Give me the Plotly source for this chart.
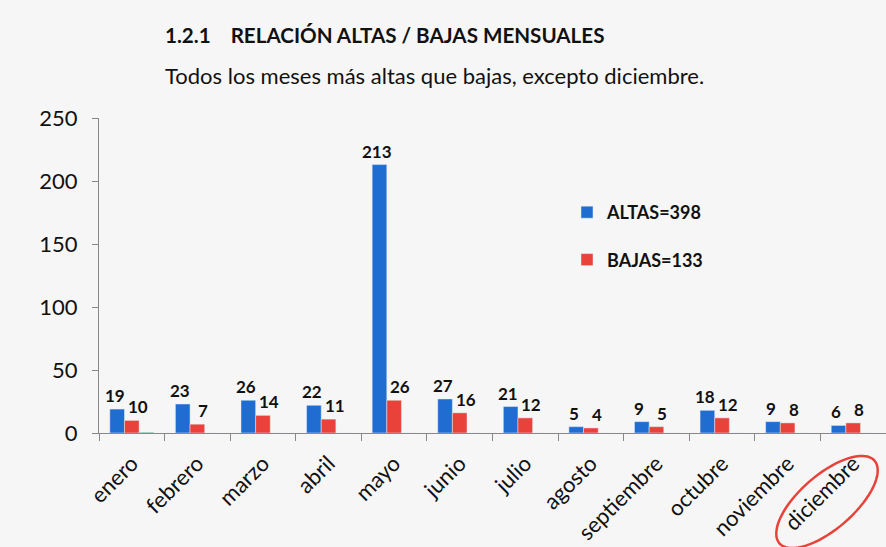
import numpy as np
import plotly.graph_objects as go

meses = ["enero", "febrero", "marzo", "abril", "mayo", "junio", "julio",
         "agosto", "septiembre", "octubre", "noviembre", "diciembre"]
altas = [19, 23, 26, 22, 213, 27, 21, 5, 9, 18, 9, 6]
bajas = [10, 7, 14, 11, 26, 16, 12, 4, 5, 12, 8, 8]
otros = [0.6, 0, 0, 0, 0, 0, 0, 0, 0, 0, 0, 0]
y_ticks = [0, 50, 100, 150, 200, 250]

FONT = "Lato, 'Open Sans', sans-serif"
BLUE = "#1f6dd1"
RED = "#e8423a"
GREEN = "#2ea56a"
BG = "#f6f6f6"

W, H = 886, 547
L, R, T, B = 99, 0, 118, 114
PW, PH = W - L - R, H - T - B


def px2paper(x, y):
    return (x - L) / PW, (H - B - y) / PH


# tilted ellipse around "diciembre" (decoration), built in pixel space
cx, cy, a, b, ang = 827, 502, 63, 27, np.deg2rad(41)
t = np.linspace(0, 2 * np.pi, 73)
ex = cx + a * np.cos(t) * np.cos(ang) + b * np.sin(t) * np.sin(ang)
ey = cy - a * np.cos(t) * np.sin(ang) + b * np.sin(t) * np.cos(ang)
pts = [px2paper(x, y) for x, y in zip(ex, ey)]
path = "M " + " L ".join(f"{px:.4f},{py:.4f}" for px, py in pts) + " Z"

lbl_font = dict(family=FONT, size=17, color="#111", weight="bold")

fig = go.Figure()
fig.add_trace(go.Bar(x=meses, y=altas, name=f"ALTAS={sum(altas)}", marker_color=BLUE,
                     legendgroup="a"))
fig.add_trace(go.Bar(x=meses, y=bajas, name=f"BAJAS={sum(bajas)}", marker_color=RED,
                     legendgroup="b"))
fig.add_trace(go.Bar(x=meses, y=otros, name="otros", marker_color=GREEN,
                     showlegend=False, hoverinfo="skip"))

# data labels (placed like Excel's, nudged apart so they do not collide)
annotations = []
for m, va, vb in zip(meses, altas, bajas):
    annotations.append(dict(x=m, y=va, xref="x", yref="y", text=str(va), showarrow=False,
                            xanchor="center", yanchor="bottom", xshift=-17, yshift=1,
                            font=lbl_font))
    annotations.append(dict(x=m, y=vb, xref="x", yref="y", text=str(vb), showarrow=False,
                            xanchor="center", yanchor="bottom", xshift=6, yshift=1,
                            font=lbl_font))

tx, _ = px2paper(163, 0)
annotations += [
    dict(text="<b>1.2.1&nbsp;&nbsp;&nbsp;&nbsp;RELACIÓN ALTAS / BAJAS MENSUALES</b>",
         xref="paper", yref="paper", x=tx, y=px2paper(0, 35)[1],
         xanchor="left", yanchor="middle", showarrow=False,
         font=dict(family=FONT, size=20.6, color="#111")),
    dict(text="Todos los meses más altas que bajas, excepto diciembre.",
         xref="paper", yref="paper", x=tx, y=px2paper(0, 75)[1],
         xanchor="left", yanchor="middle", showarrow=False,
         font=dict(family=FONT, size=22, color="#111")),
]

fig.update_layout(
    width=W, height=H,
    margin=dict(l=L, r=R, t=T, b=B),
    paper_bgcolor=BG, plot_bgcolor=BG,
    barmode="group", bargap=0.33, bargroupgap=0,
    font=dict(family=FONT, color="#111"),
    showlegend=True,
    legend=dict(x=px2paper(567, 0)[0], y=px2paper(0, 194)[1], xanchor="left", yanchor="top",
                bgcolor="rgba(0,0,0,0)", tracegroupgap=21,
                font=dict(family=FONT, size=18, color="#111", weight="bold"),
                itemwidth=30),
    annotations=annotations,
    shapes=[dict(type="path", xref="paper", yref="paper", path=path,
                 line=dict(color=RED, width=2.5))],
)
fig.update_xaxes(showline=True, linecolor="#888", linewidth=1,
                 ticks="outside", tickson="boundaries", ticklen=7, tickcolor="#888",
                 tickangle=-45, ticklabelstandoff=8,
                 tickfont=dict(family=FONT, size=22, color="#111"),
                 showgrid=False)
fig.update_yaxes(range=[0, 250], tickvals=y_ticks, showline=True, linecolor="#888",
                 linewidth=1, ticks="outside", ticklen=6, tickcolor="#888",
                 ticklabelstandoff=10,
                 tickfont=dict(family=FONT, size=22, color="#111"),
                 showgrid=False, zeroline=False)

fig.write_html("out.html", config={"displayModeBar": False},
               post_script="document.body.style.margin='0';"
                           "document.body.style.background='" + BG + "';")
